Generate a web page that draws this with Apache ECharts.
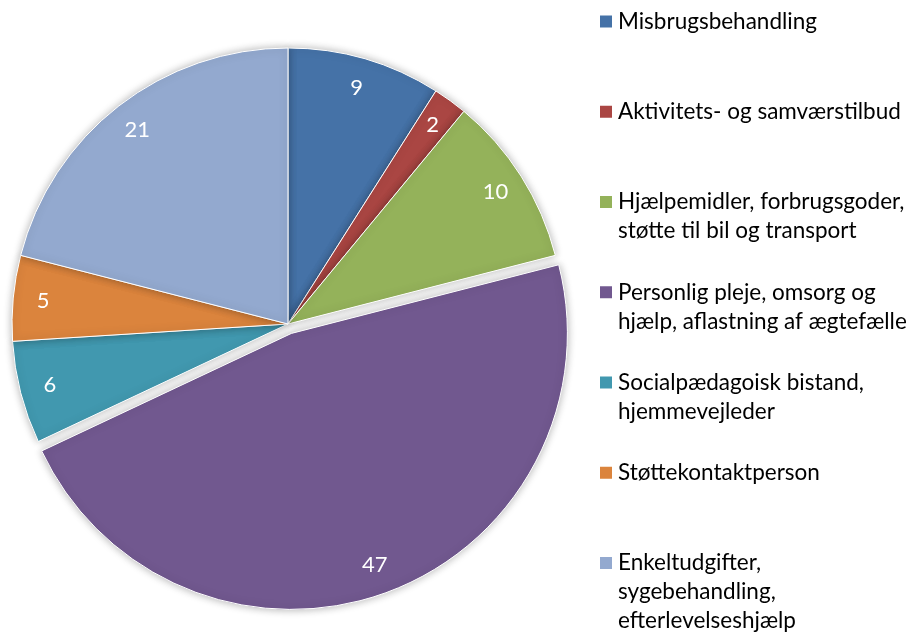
<!DOCTYPE html>
<html>
<head>
<meta charset="utf-8">
<script src="https://cdn.jsdelivr.net/npm/echarts@6/dist/echarts.min.js"></script>
<style>
  html, body { margin: 0; padding: 0; background: #fff; }
  #chart { width: 913px; height: 636px; }
</style>
</head>
<body>
<div id="chart"></div>
<script>
// kategorier (linjeskift som i forklaringen)
const names = [
  'Misbrugsbehandling',
  'Aktivitets- og samværstilbud',
  'Hjælpemidler, forbrugsgoder,\nstøtte til bil og transport',
  'Personlig pleje, omsorg og\nhjælp, aflastning af ægtefælle',
  'Socialpædagoisk bistand,\nhjemmevejleder',
  'Støttekontaktperson',
  'Enkeltudgifter,\nsygebehandling,\nefterlevelseshjælp'
]
const values = [9, 2, 10, 47, 6, 5, 21]
const colors = ['#4572A7', '#AA4643', '#94B25A', '#71588F', '#4198AF', '#DB843D', '#93A9CF']
// skiven der er trukket ud
const explodedIndex = 3

const font = 'Lato'
const lineH = 29
const cx = 288
const cy = 324
const R = 276

const pieData = names.map((n, i) => ({
  name: n,
  value: values[i],
  selected: i === explodedIndex,
  itemStyle: { color: colors[i] }
}))

const labelData = names.map((n, i) => ({
  name: n,
  value: values[i],
  selected: i === explodedIndex
}))

// en forklaring pr. post, så afstanden bliver ens
// tomme linjer foran, så ikonet står ud for første linje
const legends = names.map((n, i) => {
  const lines = n.split('\n')
  const padded = Array(lines.length - 1).fill(' ').concat(lines)
  const h = padded.length * lineH
  const iconY = 24.5 + i * 90.25
  return {
    data: [{ name: n, itemStyle: { color: colors[i] } }],
    orient: 'vertical',
    left: 598,
    top: iconY - h / 2,
    padding: 0,
    icon: 'rect',
    itemWidth: 14,
    itemHeight: 14,
    selectedMode: false,
    formatter: function () {
      return padded.map(s => '{t|' + s + '}').join('\n')
    },
    textStyle: {
      rich: {
        t: {
          fontFamily: font,
          fontSize: 22.5,
          color: '#000',
          lineHeight: lineH
        }
      }
    }
  }
})

const myChart = echarts.init(document.getElementById('chart'))
const option = {
  animation: false,
  legend: legends,
  series: [
    {
      name: 'main',
      type: 'pie',
      center: [cx, cy],
      radius: R,
      startAngle: 90,
      clockwise: true,
      selectedMode: 'single',
      selectedOffset: 10,
      label: { show: false },
      labelLine: { show: false },
      itemStyle: {
        borderColor: '#fff',
        borderWidth: 1,
        shadowBlur: 8,
        shadowColor: 'rgba(0,0,0,0.3)'
      },
      emphasis: { disabled: true },
      data: pieData
    },
    {
      name: 'labels',
      type: 'pie',
      center: [cx, cy],
      radius: [R * 0.76, R],
      startAngle: 90,
      clockwise: true,
      silent: true,
      selectedMode: 'single',
      selectedOffset: 10,
      itemStyle: { color: 'rgba(0,0,0,0)', borderWidth: 0 },
      label: {
        show: true,
        position: 'inside',
        formatter: '{c}',
        color: '#fff',
        fontFamily: font,
        fontSize: 22
      },
      labelLine: { show: false },
      emphasis: { disabled: true },
      data: labelData
    }
  ]
}
myChart.setOption(option)
</script>
</body>
</html>
